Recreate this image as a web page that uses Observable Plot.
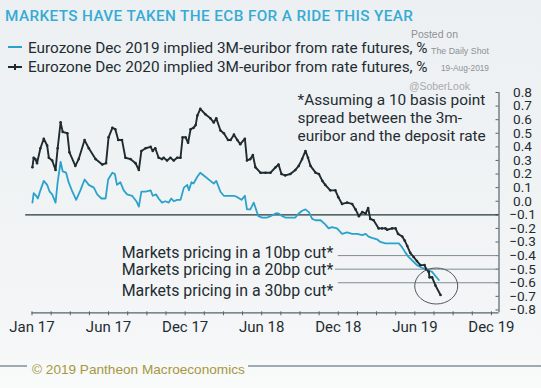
<!DOCTYPE html>
<html><head><meta charset="utf-8">
<script src="https://cdn.jsdelivr.net/npm/d3@7"></script>
<script src="https://cdn.jsdelivr.net/npm/@observablehq/plot@0.6"></script>
<style>
body{margin:0;background:#fff;}
#wrap{position:relative;width:541px;height:388px;overflow:hidden;background:linear-gradient(#ecf0f2,#f3f5f6 80%,#f9fafa);}
#wrap svg{position:absolute;left:0;top:0;}
.t{position:absolute;white-space:nowrap;}
.sw{position:absolute;height:2px;}
</style></head><body><div id="wrap"></div><script>
// ---- data ----
const dec19Dates = ["2017-01-01","2017-01-04","2017-01-10","2017-01-14","2017-01-20","2017-01-28","2017-02-05","2017-02-11","2017-02-17","2017-02-25","2017-03-02","2017-03-09","2017-03-14","2017-03-22","2017-03-28","2017-04-06","2017-04-15","2017-04-25","2017-05-05","2017-05-15","2017-05-27","2017-06-04","2017-06-14","2017-06-24","2017-06-30","2017-07-10","2017-07-16","2017-07-21","2017-07-29","2017-08-06","2017-08-14","2017-08-26","2017-09-05","2017-09-11","2017-09-17","2017-09-27","2017-10-09","2017-10-14","2017-10-22","2017-10-28","2017-11-05","2017-11-13","2017-11-21","2017-11-27","2017-12-03","2017-12-11","2017-12-19","2017-12-27","2018-01-04","2018-01-08","2018-01-14","2018-01-19","2018-01-28","2018-02-04","2018-02-16","2018-02-28","2018-03-08","2018-03-14","2018-03-24","2018-04-01","2018-04-13","2018-04-25","2018-05-03","2018-05-13","2018-05-21","2018-05-26","2018-06-03","2018-06-11","2018-06-22","2018-07-01","2018-07-13","2018-07-21","2018-08-02","2018-08-09","2018-08-18","2018-08-25","2018-09-06","2018-09-18","2018-09-26","2018-10-04","2018-10-12","2018-10-20","2018-10-28","2018-11-05","2018-11-17","2018-11-28","2018-12-06","2018-12-14","2018-12-26","2019-01-07","2019-01-19","2019-01-31","2019-02-12","2019-02-24","2019-03-04","2019-03-11","2019-03-19","2019-03-31","2019-04-08","2019-04-20","2019-05-02","2019-05-14","2019-05-22","2019-05-30","2019-06-07","2019-06-14","2019-06-24","2019-07-04","2019-07-16","2019-07-24","2019-08-01","2019-08-09","2019-08-17","2019-08-25"];
const dec19Values = [-0.01,0.06,0.04,0.02,0.08,0.15,0.12,0.07,0.05,-0.01,0.14,0.29,0.22,0.21,0.14,0.07,0.01,0.08,0.16,0.12,0.10,0.05,0.02,0.02,0.16,0.21,0.20,0.12,0.14,0.08,0.05,0.04,0.00,-0.04,0.07,0.07,0.08,0.04,0.05,0.02,-0.01,0.00,-0.01,0.02,0.00,0.01,0.01,0.10,0.12,0.08,0.14,0.13,0.18,0.21,0.18,0.15,0.13,0.15,0.07,0.04,0.04,0.04,0.03,0.01,0.04,-0.06,-0.06,-0.01,-0.11,-0.12,-0.12,-0.11,-0.09,-0.09,-0.11,-0.12,-0.12,-0.12,-0.09,-0.07,-0.06,-0.08,-0.13,-0.14,-0.14,-0.17,-0.20,-0.19,-0.20,-0.24,-0.23,-0.24,-0.24,-0.25,-0.24,-0.26,-0.27,-0.28,-0.30,-0.31,-0.31,-0.31,-0.31,-0.34,-0.38,-0.41,-0.44,-0.47,-0.49,-0.50,-0.51,-0.52,-0.55,-0.58];

const dec20Dates = ["2017-01-01","2017-01-04","2017-01-08","2017-01-12","2017-01-20","2017-01-28","2017-02-05","2017-02-09","2017-02-17","2017-02-25","2017-03-02","2017-03-09","2017-03-14","2017-03-25","2017-03-30","2017-04-13","2017-04-21","2017-05-05","2017-05-15","2017-05-31","2017-06-16","2017-06-25","2017-07-01","2017-07-10","2017-07-17","2017-07-24","2017-08-02","2017-08-10","2017-08-22","2017-09-03","2017-09-11","2017-09-17","2017-09-27","2017-10-09","2017-10-14","2017-10-20","2017-10-28","2017-11-05","2017-11-09","2017-11-17","2017-11-25","2017-12-03","2017-12-11","2017-12-19","2017-12-24","2017-12-31","2018-01-06","2018-01-12","2018-01-19","2018-01-24","2018-01-28","2018-02-04","2018-02-16","2018-02-28","2018-03-08","2018-03-14","2018-03-24","2018-04-01","2018-04-11","2018-04-17","2018-04-25","2018-05-03","2018-05-10","2018-05-21","2018-05-26","2018-06-03","2018-06-09","2018-06-15","2018-06-27","2018-07-09","2018-07-21","2018-08-02","2018-08-09","2018-08-16","2018-08-25","2018-09-06","2018-09-18","2018-09-26","2018-10-04","2018-10-12","2018-10-18","2018-10-24","2018-11-05","2018-11-13","2018-11-21","2018-11-28","2018-12-10","2018-12-22","2018-12-29","2019-01-07","2019-01-19","2019-01-31","2019-02-08","2019-02-16","2019-02-24","2019-03-04","2019-03-10","2019-03-15","2019-03-23","2019-04-04","2019-04-12","2019-04-20","2019-04-24","2019-05-06","2019-05-14","2019-05-20","2019-05-30","2019-06-05","2019-06-11","2019-06-18","2019-06-26","2019-07-04","2019-07-12","2019-07-22","2019-07-26","2019-08-01","2019-08-03","2019-08-09","2019-08-17","2019-08-29"];
const dec20Values = [0.25,0.32,0.31,0.28,0.39,0.46,0.41,0.32,0.30,0.23,0.39,0.58,0.51,0.50,0.36,0.26,0.31,0.45,0.39,0.31,0.27,0.28,0.47,0.54,0.53,0.45,0.45,0.32,0.31,0.28,0.23,0.37,0.39,0.40,0.37,0.39,0.32,0.31,0.32,0.30,0.32,0.30,0.32,0.32,0.47,0.47,0.43,0.53,0.54,0.56,0.63,0.68,0.64,0.61,0.58,0.61,0.52,0.50,0.45,0.45,0.49,0.45,0.42,0.46,0.30,0.31,0.34,0.25,0.21,0.21,0.21,0.25,0.27,0.20,0.19,0.20,0.23,0.26,0.31,0.37,0.32,0.26,0.21,0.20,0.15,0.12,0.08,0.08,0.03,-0.02,-0.01,-0.02,-0.06,-0.11,-0.08,-0.09,-0.05,-0.13,-0.14,-0.20,-0.20,-0.20,-0.21,-0.20,-0.20,-0.24,-0.26,-0.29,-0.33,-0.38,-0.41,-0.44,-0.47,-0.47,-0.50,-0.52,-0.56,-0.56,-0.62,-0.69];

const xTickDates = ["2016-12-31","2017-07-01","2017-12-30","2018-06-30","2018-12-29","2019-06-29","2019-12-28"];
const xTickLabels = ["Jan 17","Jun 17","Dec 17","Jun 18","Dec 18","Jun 19","Dec 19"];
const xDomain = ["2016-12-31","2020-01-15"];
const yTicks = [0.8,0.7,0.6,0.5,0.4,0.3,0.2,0.1,0.0,-0.1,-0.2,-0.3,-0.4,-0.5,-0.6,-0.7,-0.8];
const yDomain = [-0.821, 0.8];
const baselineLevel = -0.1, baselineStart = "2016-12-16";
const cutLevels = [-0.4, -0.5, -0.6];
const cutLineStarts = ["2018-12-29","2018-12-22","2018-12-29"];
const cutLabelDate = "2018-12-17";
const cutLabels = ["Markets pricing in a 10bp cut*","Markets pricing in a 20bp cut*","Markets pricing in a 30bp cut*"];
const circleCenter = {date: "2019-08-20", value: -0.6275};

const titleText = "MARKETS HAVE TAKEN THE ECB FOR A RIDE THIS YEAR";
const legendLabels = ["Eurozone Dec 2019 implied 3M-euribor from rate futures, %","Eurozone Dec 2020 implied 3M-euribor from rate futures, %"];
const noteLines = ["*Assuming a 10 basis point","spread between the 3m-","euribor and the deposit rate"];
const sourceText = "\u00A9 2019  Pantheon  Macroeconomics";

// ---- build ----
const parse = d3.utcParse("%Y-%m-%d");
const BLUE = "#2ba2cb", BLACK = "#1f2b30", INK = "#1f2c32", AXIS = "#56646a";
const dec19 = dec19Dates.map((d,i)=>({date: parse(d), value: dec19Values[i]}));
const dec20 = dec20Dates.map((d,i)=>({date: parse(d), value: dec20Values[i]}));
const majors = xTickDates.map(parse);
const labelOf = new Map(majors.map((d,i)=>[+d, xTickLabels[i]]));
const minors = [];
for (let i=0;i<majors.length-1;i++) for (let k=0;k<4;k++) minors.push(new Date(+majors[i] + (majors[i+1]-majors[i])*k/4));
minors.push(majors[majors.length-1]);
const X1 = parse(xDomain[1]);

const plot = Plot.plot({
  width: 541, height: 388,
  marginLeft: 31.5, marginRight: 42.5, marginTop: 92, marginBottom: 75.7,
  style: {background: "transparent", fontFamily: "Roboto, sans-serif", color: INK, overflow: "visible"},
  x: {type: "utc", domain: xDomain.map(parse)},
  y: {domain: yDomain},
  marks: [
    Plot.ruleY([yDomain[0]], {stroke: AXIS, strokeWidth: 1.2}),
    Plot.ruleX([X1], {stroke: AXIS, strokeWidth: 1.2}),
    Plot.ruleX(minors, {x: d => d, y1: yDomain[0], y2: yDomain[0], insetBottom: -3, insetTop: -1, stroke: AXIS}),
    Plot.ruleY(yTicks, {y: d => d, x1: X1, x2: X1, insetLeft: -3, stroke: AXIS}),
    Plot.axisX({ticks: majors, tickSize: 0, tickPadding: 9, tickFormat: d => labelOf.get(+d), fontSize: 15, fill: INK, label: null}),
    Plot.axisY({anchor: "right", ticks: yTicks, tickSize: 0, tickPadding: 23.5, textAnchor: "middle", tickFormat: d3.format(".1f"), fontSize: 13.6, fill: INK, label: null}),
    Plot.ruleY([baselineLevel], {x1: parse(baselineStart), x2: X1, stroke: "#25343a", strokeWidth: 1.3}),
    Plot.ruleY(cutLevels, {y: d => d, x1: (d,i) => parse(cutLineStarts[i]), x2: X1, stroke: "#7f8d93", strokeWidth: 1}),
    Plot.line(dec19, {x: "date", y: "value", stroke: BLUE, strokeWidth: 1.8}),
    Plot.line(dec20, {x: "date", y: "value", stroke: BLACK, strokeWidth: 1.9}),
    Plot.dot(dec20, {x: "date", y: "value", r: 1.3, fill: BLACK}),
    ...cutLabels.map((lab, i) => Plot.text([lab], {x: parse(cutLabelDate), y: cutLevels[i], text: d => d, textAnchor: "end", fontSize: 15.9, fill: INK, dy: [-2.6, 0.7, 8][i]}))
  ]
});
const wrap = document.getElementById("wrap");
wrap.appendChild(plot);

// circle annotation, positioned through the plot scales
const sx = plot.scale("x"), sy = plot.scale("y");
d3.select(plot).append("ellipse")
  .attr("cx", sx.apply(parse(circleCenter.date))).attr("cy", sy.apply(circleCenter.value))
  .attr("rx", 21.5).attr("ry", 18).attr("fill", "none").attr("stroke", "#4d5b61").attr("stroke-width", 1);

function addText(str, {x, cy, size, color, family = "Roboto, sans-serif", weight = 400, width = null, anchor = "start", ls = 0}) {
  const el = document.createElement("div");
  el.className = "t"; el.textContent = str;
  Object.assign(el.style, {fontFamily: family, fontSize: size + "px", lineHeight: size + "px", color, fontWeight: weight, letterSpacing: ls + "px"});
  wrap.appendChild(el);
  let s = size;
  if (width) { const w = el.getBoundingClientRect().width; s = size * width / w; el.style.fontSize = s + "px"; el.style.lineHeight = s + "px"; }
  const w2 = el.getBoundingClientRect().width;
  el.style.left = (anchor === "start" ? x : anchor === "end" ? x - w2 : x - w2 / 2) + "px";
  el.style.top = (cy - 0.5 * s) + "px";
  return el;
}
// watermark
const WM = "Liberation Sans, Arial, sans-serif";
addText("Posted on", {x: 411, cy: 35, size: 11, color: "#8e9194", family: WM, width: 47});
addText("The Daily Shot", {x: 431, cy: 51, size: 10, color: "#8e9194", family: WM, width: 58});
addText("19-Aug-2019", {x: 441, cy: 68, size: 9, color: "#8e9194", family: WM, width: 48});
addText("@SoberLook", {x: 409, cy: 87, size: 10.5, color: "#a7aaad", family: WM, width: 61});
// title + legend
addText(titleText, {x: 5, cy: 17, size: 15, color: "#35abd5", weight: 500, ls: 0.4, width: 409});
addText(legendLabels[0], {x: 28, cy: 49, size: 15, color: INK, width: 400});
addText(legendLabels[1], {x: 28, cy: 68, size: 15, color: INK, width: 400});
const s1 = document.createElement("div"); s1.className = "sw"; Object.assign(s1.style, {left: "8px", top: "46px", width: "14px", background: BLUE}); wrap.appendChild(s1);
const s2 = document.createElement("div"); s2.className = "sw"; Object.assign(s2.style, {left: "8px", top: "66px", width: "14px", background: BLACK}); wrap.appendChild(s2);
const s3 = document.createElement("div"); s3.className = "sw"; Object.assign(s3.style, {left: "14px", top: "64px", width: "2px", height: "6px", background: BLACK}); wrap.appendChild(s3);
// note
noteLines.forEach((l, i) => addText(l, {x: 297.5, cy: 101 + i * 18, size: 15.4, color: INK}));
// footer
const fl = document.createElement("div"); Object.assign(fl.style, {position: "absolute", left: "0px", top: "365px", width: "27px", height: "2px", background: "#9eabb2"}); wrap.appendChild(fl);
const fr = document.createElement("div"); Object.assign(fr.style, {position: "absolute", left: "248px", top: "365px", width: "293px", height: "2px", background: "#9eabb2"}); wrap.appendChild(fr);
addText(sourceText, {x: 32, cy: 370, size: 13, color: "#a59840", family: WM, width: 213});
</script></body></html>
